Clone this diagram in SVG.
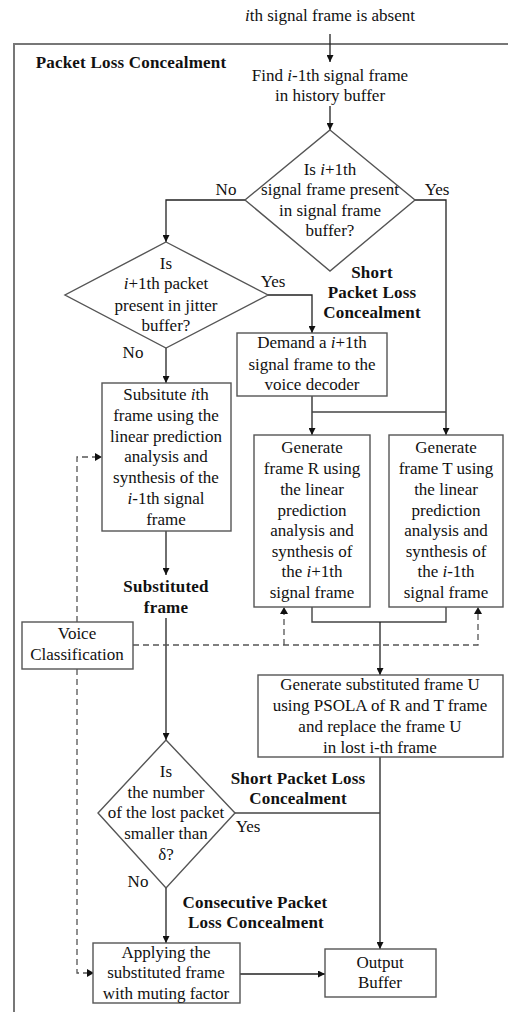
<svg xmlns="http://www.w3.org/2000/svg" width="508" height="1012" viewBox="0 0 508 1012">
  <defs>
    <marker id="arr" viewBox="0 0 10 10" refX="10" refY="5" markerWidth="7" markerHeight="7" markerUnits="userSpaceOnUse" orient="auto">
      <path d="M0,0 L10,5 L0,10 z" fill="#111"/>
    </marker>
    <style>
      text { font-family: "Liberation Serif", "Times New Roman", serif; font-size: 17px; fill: #111; text-anchor: middle; }
      .b { font-weight: bold; letter-spacing: 0.2px; }
      .i { font-style: italic; }
      .box { fill: #fff; stroke: #555; stroke-width: 1.4; }
      .ln { fill: none; stroke: #444; stroke-width: 1.4; }
      .ar { fill: none; stroke: #222; stroke-width: 1.3; marker-end: url(#arr); }
      .da { fill: none; stroke: #555; stroke-width: 1.3; stroke-dasharray: 6 4; }
      .frame { fill: none; stroke: #777; stroke-width: 2; }
    </style>
  </defs>
  <rect width="508" height="1012" fill="#fff"/>

  <!-- outer boundary -->
  <path class="frame" d="M14,1012 L14,44 L508,44"/>

  <!-- free labels -->
  <text x="330" y="21"><tspan class="i">i</tspan>th signal frame is absent</text>
  <text class="b" x="131" y="68">Packet Loss Concealment</text>
  <text x="226" y="195">No</text>
  <text x="437" y="195">Yes</text>
  <text x="273" y="287">Yes</text>
  <text x="133" y="358">No</text>
  <text class="b" x="372" y="278">Short</text>
  <text class="b" x="372" y="298">Packet Loss</text>
  <text class="b" x="372" y="318">Concealment</text>
  <text class="b" x="166" y="592">Substituted</text>
  <text class="b" x="166" y="613">frame</text>
  <text class="b" x="298" y="784">Short Packet Loss</text>
  <text class="b" x="298" y="804">Concealment</text>
  <text x="248" y="832">Yes</text>
  <text x="138" y="887">No</text>
  <text class="b" x="255" y="908">Consecutive Packet</text>
  <text class="b" x="256" y="928">Loss Concealment</text>

  <!-- connectors -->
  <g id="connectors">
    <path class="ar" d="M330,34 L330,62"/>
    <path class="ar" d="M330,106 L330,130"/>
    <path class="ar" d="M245,200 L166,200 L166,242"/>
    <path class="ar" d="M415,200 L446,200 L446,435"/>
    <path class="ar" d="M268,295 L312,295 L312,333"/>
    <path class="ar" d="M166,348 L166,383"/>
    <path class="ar" d="M312,396 L312,435"/>
    <path class="ln" d="M312,412 L446,412"/>
    <path class="ar" d="M166,531 L166,575"/>
    <path class="ar" d="M166,618 L166,740"/>
    <path class="ln" d="M312,607 L312,622 L446,622 L446,607"/>
    <path class="ar" d="M380,622 L380,675"/>
    <path class="ar" d="M380,757 L380,949"/>
    <path class="ln" d="M235,813 L380,813"/>
    <path class="ar" d="M166,888 L166,943"/>
    <path class="ar" d="M240,974 L325,974"/>
    <!-- voice classification (dashed) -->
    <path class="da" d="M77,622 L77,457 L95,457"/>
    <path d="M95,453 L102,457 L95,461 z" fill="#111"/>
    <path class="da" d="M77,669 L77,973 L87,973"/>
    <path d="M87,969 L94,973 L87,977 z" fill="#111"/>
    <path class="da" d="M133,645 L478,645 L478,614"/>
    <path d="M474,614 L478,607 L482,614 z" fill="#111"/>
    <path class="da" d="M284,645 L284,614"/>
    <path d="M280,614 L284,607 L288,614 z" fill="#111"/>
  </g>

  <g id="find">
    <text x="330" y="81">Find <tspan class="i">i</tspan>-1th signal frame</text>
    <text x="330" y="101">in history buffer</text>
  </g>

  <g id="decision1">
    <path class="box" d="M330,130 L415,200 L330,271 L245,200 z"/>
    <text x="330" y="175">Is <tspan class="i">i</tspan>+1th</text>
    <text x="330" y="195">signal frame present</text>
    <text x="330" y="216">in signal frame</text>
    <text x="330" y="236">buffer?</text>
  </g>

  <g id="decision2">
    <path class="box" d="M166,242 L268,295 L166,348 L65,295 z"/>
    <text x="166" y="269">Is</text>
    <text x="166" y="289"><tspan class="i">i</tspan>+1th packet</text>
    <text x="166" y="311">present in jitter</text>
    <text x="166" y="331">buffer?</text>
  </g>

  <g id="demand">
    <rect class="box" x="237" y="333" width="150" height="63"/>
    <text x="312" y="348">Demand a <tspan class="i">i</tspan>+1th</text>
    <text x="312" y="370">signal frame to the</text>
    <text x="312" y="390">voice decoder</text>
  </g>

  <g id="substitute">
    <rect class="box" x="102" y="383" width="129" height="148"/>
    <text x="166" y="400">Subsitute <tspan class="i">i</tspan>th</text>
    <text x="166" y="421">frame using the</text>
    <text x="166" y="442">linear prediction</text>
    <text x="166" y="462">analysis and</text>
    <text x="166" y="483">synthesis of the</text>
    <text x="166" y="504"><tspan class="i">i</tspan>-1th signal</text>
    <text x="166" y="525">frame</text>
  </g>

  <g id="generateR">
    <rect class="box" x="254" y="435" width="116" height="172"/>
    <text x="312" y="453">Generate</text>
    <text x="312" y="474">frame R using</text>
    <text x="312" y="495">the linear</text>
    <text x="312" y="516">prediction</text>
    <text x="312" y="536">analysis and</text>
    <text x="312" y="557">synthesis of</text>
    <text x="312" y="577">the <tspan class="i">i</tspan>+1th</text>
    <text x="312" y="598">signal frame</text>
  </g>

  <g id="generateT">
    <rect class="box" x="389" y="435" width="114" height="172"/>
    <text x="446" y="453">Generate</text>
    <text x="446" y="474">frame T using</text>
    <text x="446" y="495">the linear</text>
    <text x="446" y="516">prediction</text>
    <text x="446" y="536">analysis and</text>
    <text x="446" y="557">synthesis of</text>
    <text x="446" y="577">the <tspan class="i">i</tspan>-1th</text>
    <text x="446" y="598">signal frame</text>
  </g>

  <g id="voice">
    <rect class="box" x="22" y="622" width="111" height="47"/>
    <text x="77" y="639">Voice</text>
    <text x="77" y="660">Classification</text>
  </g>

  <g id="psola">
    <rect class="box" x="258" y="675" width="245" height="82"/>
    <text x="380" y="690">Generate substituted frame U</text>
    <text x="380" y="711">using PSOLA of R and T frame</text>
    <text x="380" y="732">and replace the frame U</text>
    <text x="380" y="753">in lost i-th frame</text>
  </g>

  <g id="decision3">
    <path class="box" d="M166,740 L235,813 L166,888 L98,813 z"/>
    <text x="166" y="777">Is</text>
    <text x="166" y="798">the number</text>
    <text x="166" y="818">of the lost packet</text>
    <text x="166" y="839">smaller than</text>
    <text x="166" y="860">δ?</text>
  </g>

  <g id="muting">
    <rect class="box" x="93" y="943" width="147" height="60"/>
    <text x="166" y="958">Applying the</text>
    <text x="166" y="978">substituted frame</text>
    <text x="166" y="999">with muting factor</text>
  </g>

  <g id="output">
    <rect class="box" x="325" y="949" width="111" height="48"/>
    <text x="380" y="968">Output</text>
    <text x="380" y="988">Buffer</text>
  </g>
</svg>
